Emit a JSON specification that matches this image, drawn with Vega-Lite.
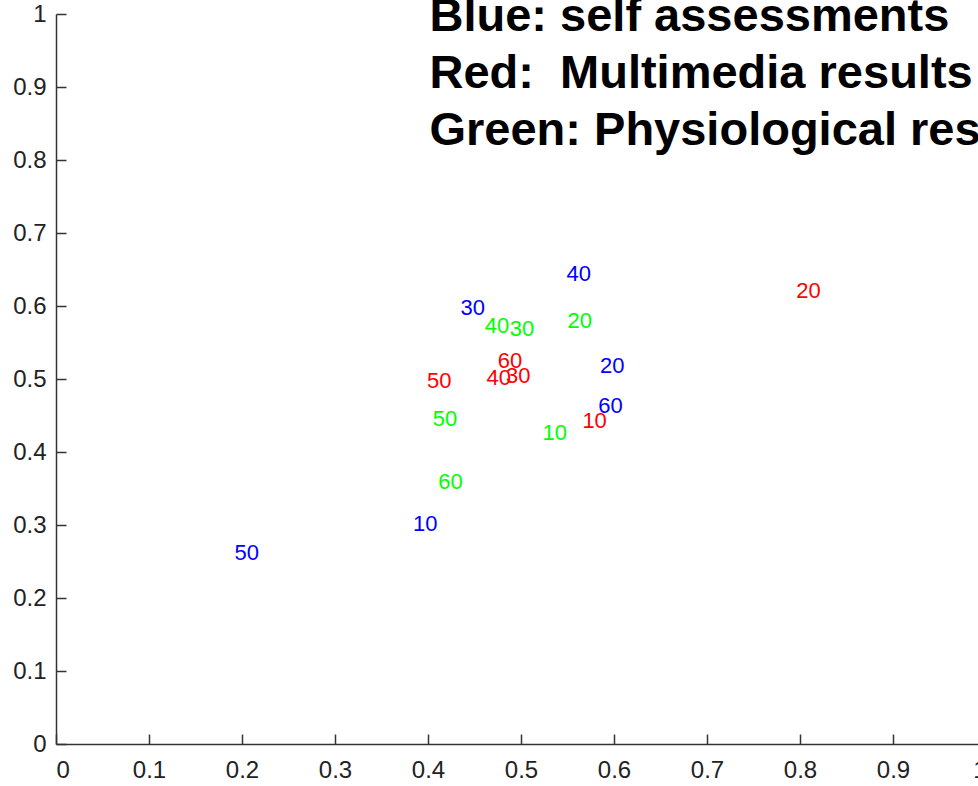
{
  "$schema": "https://vega.github.io/schema/vega-lite/v6.json",
  "autosize": "none",
  "padding": {"left": 56, "top": 14, "right": 0, "bottom": 42},
  "width": 930,
  "height": 730,
  "background": "white",
  "config": {
    "view": {"stroke": null},
    "axis": {
      "grid": false,
      "domainColor": "#333333",
      "domainWidth": 1.5,
      "tickColor": "#333333",
      "tickWidth": 1.5,
      "tickSize": -10,
      "labelFont": "Liberation Sans",
      "labelFontSize": 24,
      "labelColor": "#222222",
      "title": null
    }
  },
  "datasets": {
    "points": [
      {"series": "Blue", "label": "10", "x": 0.384, "y": 0.302},
      {"series": "Blue", "label": "20", "x": 0.585, "y": 0.518},
      {"series": "Blue", "label": "30", "x": 0.435, "y": 0.597},
      {"series": "Blue", "label": "40", "x": 0.549, "y": 0.644},
      {"series": "Blue", "label": "50", "x": 0.192, "y": 0.261},
      {"series": "Blue", "label": "60", "x": 0.583, "y": 0.463},
      {"series": "Red", "label": "10", "x": 0.566, "y": 0.442},
      {"series": "Red", "label": "20", "x": 0.796, "y": 0.621},
      {"series": "Red", "label": "30", "x": 0.484, "y": 0.504},
      {"series": "Red", "label": "40", "x": 0.463, "y": 0.501},
      {"series": "Red", "label": "50", "x": 0.399, "y": 0.497},
      {"series": "Red", "label": "60", "x": 0.475, "y": 0.525},
      {"series": "Green", "label": "10", "x": 0.523, "y": 0.426},
      {"series": "Green", "label": "20", "x": 0.550, "y": 0.579},
      {"series": "Green", "label": "30", "x": 0.488, "y": 0.568},
      {"series": "Green", "label": "40", "x": 0.461, "y": 0.573},
      {"series": "Green", "label": "50", "x": 0.405, "y": 0.445},
      {"series": "Green", "label": "60", "x": 0.411, "y": 0.359}
    ],
    "notes": [
      {"note": "Blue: self assessments", "x": 0.4016, "y": 0.9767},
      {"note": "Red:\u00a0 Multimedia results", "x": 0.4016, "y": 0.8986},
      {"note": "Green: Physiological results", "x": 0.4016, "y": 0.8205}
    ]
  },
  "layer": [
    {
      "data": {"name": "points"},
      "mark": {
        "type": "text",
        "align": "left",
        "baseline": "middle",
        "font": "Liberation Sans",
        "fontSize": 22
      },
      "encoding": {
        "x": {
          "field": "x",
          "type": "quantitative",
          "scale": {"domain": [0, 1], "nice": false, "zero": false},
          "axis": {"values": [0, 0.1, 0.2, 0.3, 0.4, 0.5, 0.6, 0.7, 0.8, 0.9, 1], "format": "~g", "labelPadding": 24}
        },
        "y": {
          "field": "y",
          "type": "quantitative",
          "scale": {"domain": [0, 1], "nice": false, "zero": false},
          "axis": {"values": [0, 0.1, 0.2, 0.3, 0.4, 0.5, 0.6, 0.7, 0.8, 0.9, 1], "format": "~g", "labelPadding": 20}
        },
        "text": {"field": "label", "type": "nominal"},
        "color": {
          "field": "series",
          "type": "nominal",
          "scale": {"domain": ["Blue", "Red", "Green"], "range": ["#0000ff", "#ff0000", "#00ff00"]},
          "legend": null
        }
      }
    },
    {
      "data": {"name": "notes"},
      "mark": {
        "type": "text",
        "align": "left",
        "baseline": "alphabetic",
        "font": "Liberation Sans",
        "fontSize": 47,
        "fontWeight": "bold",
        "color": "#000000"
      },
      "encoding": {
        "x": {"field": "x", "type": "quantitative"},
        "y": {"field": "y", "type": "quantitative"},
        "text": {"field": "note", "type": "nominal"}
      }
    }
  ]
}
